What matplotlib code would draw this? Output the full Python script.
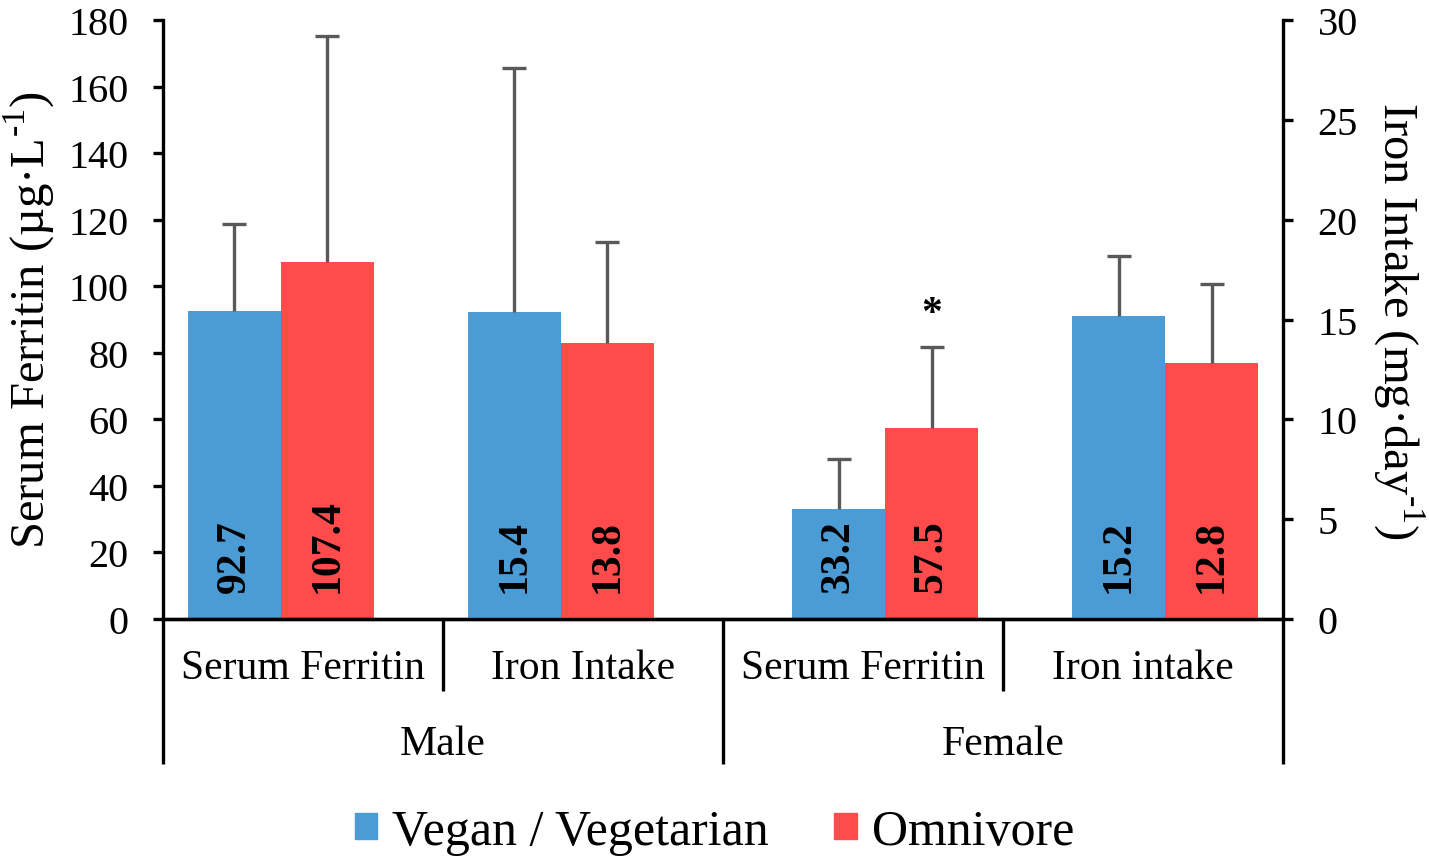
import matplotlib.pyplot as plt
import numpy as np
from matplotlib.transforms import blended_transform_factory
from matplotlib.patches import Patch

plt.rcParams['font.family'] = ['Liberation Serif', 'DejaVu Serif']
plt.rcParams['mathtext.fontset'] = 'custom'
plt.rcParams['mathtext.rm'] = 'Liberation Serif'

# data
categories = ['Serum Ferritin', 'Iron Intake', 'Serum Ferritin', 'Iron intake']
groups = ['Male', 'Female']
vegan = [92.7, 15.4, 33.2, 15.2]
omni = [107.4, 13.8, 57.5, 12.8]
vegan_err = [26.0, 12.2, 14.9, 3.0]
omni_err = [67.7, 5.1, 24.2, 4.0]
on_right = [False, True, False, True]   # iron intake uses the right axis

blue = '#4B9BD5'
red = '#FF4B4B'
errc = '#595959'

fig = plt.figure(figsize=(14.29, 8.62), dpi=100)
ax = fig.add_axes([0.1141, 0.2807, 0.7837, 0.6949])
ax2 = ax.twinx()

w = 0.332
# male bar pairs sit left of the category centre, female pairs sit right
shift = np.array([-0.079, -0.079, 0.079, 0.079])
x = np.arange(len(categories))
xb = x + shift - w / 2
xr = x + shift + w / 2
trans = blended_transform_factory(ax2.transData, ax2.transAxes)

for i in range(len(categories)):
    a = ax2 if on_right[i] else ax
    for xx, v, e, c in [(xb[i], vegan[i], vegan_err[i], blue), (xr[i], omni[i], omni_err[i], red)]:
        a.bar(xx, v, w, color=c, zorder=2)
        a.vlines(xx, v, v + e, color=errc, lw=2.4, zorder=3)
        a.plot(xx, v + e, marker='_', ms=17, mew=2.4, color=errc, zorder=3)
        ax2.text(xx, 0.045, '%.1f' % v, transform=trans, rotation=90,
                 ha='center', va='bottom', fontsize=30, fontweight='bold', zorder=5)

# significance mark
ax.annotate('*', (xr[2], omni[2] + omni_err[2]), xytext=(0, 10),
            textcoords='offset points', ha='center', va='bottom', fontsize=30,
            fontweight='bold')

ax.set_xlim(-0.5, 3.5)
ax.set_ylim(0, 180)
ax.set_yticks(range(0, 181, 20))
ax2.set_ylim(0, 30)
ax2.set_yticks(range(0, 31, 5))
ax.set_xticks([])

for a in (ax, ax2):
    for s in a.spines.values():
        s.set_linewidth(2.4)
    a.spines['top'].set_visible(False)
ax.spines['right'].set_visible(False)
ax2.spines['left'].set_visible(False)
ax.tick_params(axis='y', labelsize=29, length=7, width=2.4, pad=18, direction='out')
ax2.tick_params(axis='y', right=True, labelright=True, labelsize=29, length=7,
                width=2.4, pad=18, direction='out')

ax.set_ylabel('Serum Ferritin (µg·L$^{\\text{-1}}$)', fontsize=35, labelpad=8)
ax2.set_ylabel('Iron Intake (mg·day$^{\\text{-1}}$)', fontsize=35, rotation=270,
               labelpad=49)

# two-level category axis
for xf, yb in [(0, -0.242), (0.25, -0.12), (0.5, -0.242), (0.75, -0.12), (1.0, -0.242)]:
    ax.plot([xf, xf], [0, yb], transform=ax.transAxes, color='black', lw=2.4,
            clip_on=False, solid_capstyle='butt')
for i, c in enumerate(categories):
    ax.text((i + 0.5) / 4, -0.082, c, transform=ax.transAxes, ha='center',
            va='center', fontsize=30)
for i, g in enumerate(groups):
    ax.text((i + 0.5) / 2, -0.208, g, transform=ax.transAxes, ha='center',
            va='center', fontsize=30)

handles = [Patch(color=blue), Patch(color=red)]
fig.legend(handles, ['Vegan / Vegetarian', 'Omnivore'], loc='lower center',
           bbox_to_anchor=(0.5, -0.045), ncol=2, frameon=False, fontsize=36,
           handlelength=0.45, handleheight=0.45, handletextpad=0.3, columnspacing=1.3)

fig.savefig('out.png', dpi=100)
